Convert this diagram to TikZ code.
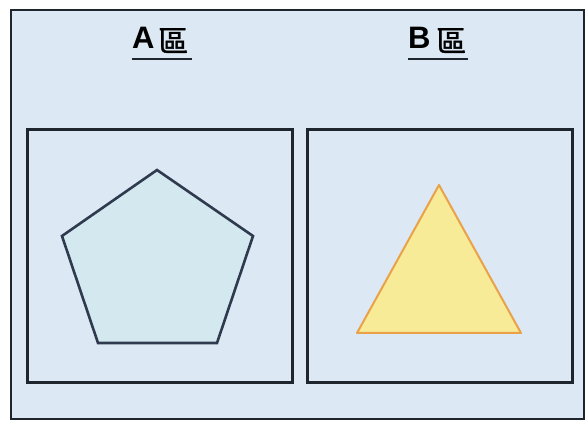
\documentclass[tikz,border=0pt]{standalone}
\usepackage{fontspec}
\setmainfont{Liberation Sans}
\newfontfamily\cjk[FakeBold=1.2]{Noto Sans CJK TC}
\definecolor{bgblue}{HTML}{DCE8F3}
\definecolor{framec}{HTML}{1E252D}
\definecolor{pentfill}{HTML}{D3E9EF}
\definecolor{pentline}{HTML}{2F3A4E}
\definecolor{trifill}{HTML}{F8EB98}
\definecolor{triline}{HTML}{E9A24A}
\tikzset{
  zonebox/.style={draw=framec, line width=3pt},
  title/.style={font=\fontsize{31}{34}\selectfont\bfseries, inner sep=0pt, anchor=base west},
  cjkpart/.style={font=\cjk\fontsize{30}{34}\selectfont, inner sep=0pt, anchor=base west},
  uline/.style={draw=framec, line width=2.4pt}
}
\begin{document}
\begin{tikzpicture}[x=1pt,y=-1pt]
\useasboundingbox (0,0) rectangle (587,422);
\fill[white] (0,0) rectangle (587,422);
\fill[bgblue] (11,10) rectangle (584,419);
\draw[framec, line width=2.4pt] (11,10) rectangle (584,419);
% titles
\node[title] (ta) at (132,49) {A};
\node[cjkpart] (ta2) at (158,52) {區};
\node[title] (tb) at (408,49) {B};
\node[cjkpart] (tb2) at (436,52) {區};
\coordinate (ua1) at (132,59); \coordinate (ua2) at (192,59);
\coordinate (ub1) at (408,59); \coordinate (ub2) at (468,59);
\draw[uline] (ua1) -- (ua2);
\draw[uline] (ub1) -- (ub2);
% zone boxes
\draw[zonebox] (27,130) rectangle (292,383);
\draw[zonebox] (307,130) rectangle (572,383);
% pentagon
\coordinate (p1) at (157,170);
\coordinate (p2) at (253,236);
\coordinate (p3) at (217,343);
\coordinate (p4) at (98,343);
\coordinate (p5) at (62,236);
\draw[fill=pentfill, draw=pentline, line width=2.6pt, line join=miter] (p1) -- (p2) -- (p3) -- (p4) -- (p5) -- cycle;
% triangle
\coordinate (t1) at (439,185);
\coordinate (t2) at (521,333);
\coordinate (t3) at (357,333);
\draw[fill=trifill, draw=triline, line width=2pt, line join=round] (t1) -- (t2) -- (t3) -- cycle;
\end{tikzpicture}
\end{document}
